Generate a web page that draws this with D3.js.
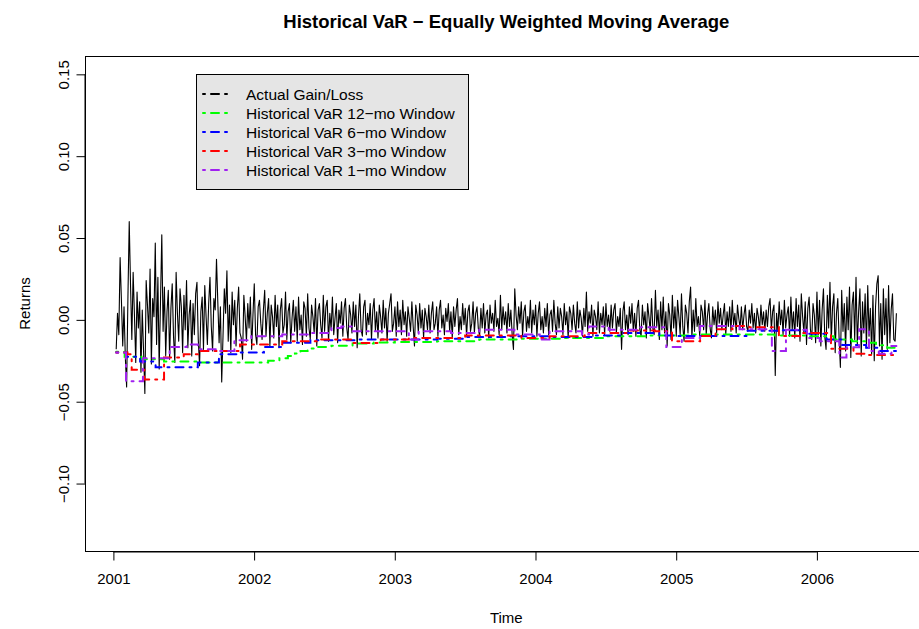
<!DOCTYPE html>
<html>
<head>
<meta charset="utf-8">
<script src="https://cdn.jsdelivr.net/npm/d3@7"></script>
<style>
body { margin: 0; background: #fff; }
svg { display: block; font-family: "Liberation Sans", Arial, sans-serif; }
</style>
</head>
<body>
<svg id="chart" width="919" height="629"></svg>
<script>
// daily gain/loss (in %), first trading day 2001.02 to last 2006.565
var startTime = 2001.02;
var endTime = 2006.565;
var gainLoss = [
  -1.8, 0.4, -0.9, 3.8, 1.2, -1.6, 0.8, -2.3, -4.1, 1.4, 6.0, 2.1, -1.2, 2.9, 0.3, -2.6, 1.7, -0.5, 1.1, -3.2,
  0.6, -1.9, -4.5, 2.4, 0.9, -0.8, 3.1, -2.7, 1.3, 0.2, 4.7, -1.5, 2.6, -3.0, 1.1, 5.2, -0.7, 2.0, -2.2, 0.5,
  1.8, -2.4, 0.7, 2.2, -1.0, -2.6, 2.9, 0.4, -1.3, 1.9, 0.8, -2.0, 1.5, -0.6, 2.4, -1.7, 0.3, 1.2, -2.2, 1.0,
  -0.9, 1.6, 2.3, -1.2, -2.8, 0.5, 1.4, -1.8, 2.1, 0.2, -1.5, 1.0, 2.6, -0.4, -1.9, 1.3, 0.6, 3.7, 1.1, -1.4,
  0.8, -3.8, -1.0, 1.9, 0.4, 3.0, -1.3, 0.9, -2.0, 1.7, -0.3, 1.2, -1.6, 0.7, 2.0, -0.8, -1.1, -2.4, 1.5, 0.2,
  -1.3, 1.0, -0.5, 1.4, -1.8, 0.3, 2.2, -0.9, -1.5, 0.8, 1.2, -0.2, -1.2, 0.6, 1.8, -1.0, 0.4, 1.3, -1.6, 0.9,
  0.2, -1.1, 1.5, -0.4, 0.9, -1.7, 0.6, 1.3, -0.8, -0.3, 1.7, -1.2, 0.5, 1.0, -1.4, 0.1, 1.2, -0.7, 0.8, -1.3,
  1.4, -0.6, 0.3, -1.5, 1.1, 0.7, -1.0, 1.6, -0.5, -1.2, 0.9, 0.2, -0.8, 1.3, -1.6, 0.6, 1.0, -0.3, -1.1, 1.5,
  -0.7, 0.8, 1.2, -1.3, 0.4, -0.6, 1.4, -0.9, 0.1, 1.0, -1.4, 0.6, -0.2, 1.1, -1.0, 0.7, 1.3, -0.5, -1.2, 0.9,
  0.3, -0.8, 1.1, -0.4, 0.9, -1.7, 0.2, 1.6, -0.6, -1.0, 0.8, 1.2, -0.9, 0.4, -0.3, 1.0, -1.2, 0.6, 1.3, -0.7,
  0.5, -1.1, 0.9, 0.2, -0.8, 1.2, -0.5, 0.7, -1.3, 0.4, 1.0, 1.6, -0.7, -0.2, 0.8, -1.0, 1.1, -0.4, 0.6, -0.9,
  1.2, -0.3, 0.5, -1.0, 0.8, 0.1, -0.7, 1.1, -0.4, -1.6, 0.9, 0.3, -0.8, 1.0, -0.5, 0.6, -1.1, 0.7, 0.2, -0.6,
  0.9, -0.8, 0.4, 1.1, -0.6, -0.2, 0.8, -1.0, 0.6, 1.2, -0.5, 0.3, -0.9, 0.7, -0.1, 1.0, -0.7, 0.5, -1.1, 0.8,
  -0.4, 0.6, 1.3, -0.9, 0.2, -0.6, 1.0, -0.3, 0.7, -1.0, 0.5, 0.9, -0.7, -0.2, 1.1, -0.8, 0.4, 0.8, -0.5, -1.0,
  0.7, -0.5, 1.0, -0.8, 0.3, 0.6, -1.1, 0.9, -0.2, 0.4, -0.7, 1.2, -0.4, 0.1, -0.9, 1.5, -0.6, 0.8, -0.3, 0.5,
  -0.8, 1.0, -0.4, 0.6, -0.9, -1.8, 1.9, 0.3, -0.6, 0.8, -0.2, 1.1, -1.0, 0.5, 0.9, -0.7, 0.2, -0.5, 1.2, -0.8,
  0.6, -0.3, 0.9, -1.0, 0.4, 1.1, -0.6, 0.2, -0.8, 0.7, -0.4, 1.0, -0.9, 0.3, 0.6, -0.7, 1.2, -0.2, -0.9, 0.8,
  -0.5, 0.7, 0.2, -0.9, 1.0, -0.3, 0.5, -1.1, 0.8, 0.4, -0.6, 0.9, -0.2, -0.8, 1.1, -0.5, 0.6, 0.1, -1.0, 0.7,
  -0.4, 1.7, -0.7, 0.5, -0.2, 0.9, -1.0, 0.6, 0.2, -0.6, 1.1, -0.8, 0.4, -0.3, 0.8, -0.9, 1.0, -0.4, 0.3, -0.7,
  0.9, -0.5, 0.6, 1.0, -0.8, 0.2, -0.4, 0.7, -1.8, 0.5, 1.1, -0.6, 0.3, -0.9, 0.8, -0.2, 1.0, -0.7, 0.4, -1.0,
  0.7, 1.2, -0.6, -1.0, 0.9, -0.3, 0.5, -1.1, 1.0, 0.2, -0.7, 1.3, -0.5, -0.9, 1.8, -0.4, 0.6, -1.2, 1.1, -0.6,
  1.4, -0.8, 0.5, -1.6, 1.0, 0.3, -1.2, 1.5, -0.5, 0.8, -1.0, 1.2, 0.2, -0.9, 1.6, -0.4, -1.3, 0.9, 0.4, -0.8,
  1.1, 2.0, -1.1, 0.6, -0.7, 1.3, -0.4, 0.2, -1.0, 0.9, 0.5, -0.6, 1.2, -0.9, 0.3, 1.0, -0.5, -1.1, 0.8, -0.3,
  0.6, -0.8, 1.1, -0.2, 0.7, -0.6, 0.3, 1.0, -0.9, 0.5, -0.4, 0.8, -0.7, 1.2, -0.3, 0.4, -0.8, 0.9, 0.1, -0.5,
  0.8, -0.6, 0.3, 0.9, -0.4, -0.7, 0.6, -0.2, 1.0, -0.5, 0.4, -0.8, 0.7, 0.2, -0.6, 0.9, -0.3, 0.5, -0.7, 0.6,
  -0.4, 0.8, 1.3, -0.6, 0.5, 0.9, -3.4, 0.4, -0.7, 1.1, -0.3, 0.6, -0.9, 1.2, -0.5, 0.3, 0.8, -1.0, 1.4, -0.6,
  0.5, -1.1, 1.3, -0.4, 0.9, -1.3, 1.6, 0.2, -0.8, 1.1, -1.5, 0.7, 1.4, -0.6, -1.2, 1.0, 0.3, -1.4, 1.7, -0.9,
  1.2, -1.6, 0.6, 1.9, -1.0, -1.8, 1.5, -0.5, 2.3, -1.3, 0.8, 1.6, -2.0, 0.4, 1.3, -1.1, -2.9, 1.8, -0.7, 1.0,
  -1.9, 1.4, -0.6, 2.0, -2.3, 0.9, 1.7, -1.2, 2.6, -1.5, 0.5, 1.9, -2.2, 1.1, -0.8, 1.6, -1.7, 2.1, -1.0, 0.7,
  -2.1, 1.5, -2.5, 0.8, 2.2, 2.7, -1.6, 1.0, -2.4, 1.9, -0.9, 1.3, -1.8, 2.1, -1.4, 0.6, 1.6, -1.2, -1.3, 0.4
];

// historical VaR (in %), [time, value] where the value changes
var var12 = [
  [2001.02, -1.95], [2001.08, -2.25], [2001.20, -2.4], [2001.36, -2.55], [2001.60, -2.6],
  [2002.10, -2.5], [2002.18, -2.35], [2002.24, -2.2], [2002.29, -2.05], [2002.33, -1.9],
  [2002.38, -1.75], [2002.45, -1.65], [2002.55, -1.58], [2002.70, -1.45], [2002.85, -1.38],
  [2003.00, -1.35], [2003.30, -1.3], [2003.60, -1.2], [2003.90, -1.15], [2004.20, -1.1],
  [2004.50, -1.0], [2004.80, -0.95], [2005.10, -0.9], [2005.70, -0.95], [2005.95, -1.0],
  [2006.12, -1.2], [2006.25, -1.3], [2006.35, -1.4], [2006.42, -1.55], [2006.50, -1.7],
  [2006.565, -1.8]
];
var var6 = [
  [2001.02, -2.0], [2001.09, -2.25], [2001.19, -2.55], [2001.30, -2.9], [2001.60, -2.6],
  [2001.75, -2.1], [2001.90, -2.0], [2002.07, -1.65], [2002.20, -1.4], [2002.40, -1.25],
  [2002.75, -1.2], [2003.30, -1.15], [2003.50, -1.05], [2003.80, -1.0], [2004.10, -1.05],
  [2004.40, -0.95], [2004.60, -0.8], [2004.88, -0.95], [2004.98, -0.98], [2005.50, -0.67],
  [2005.73, -0.63], [2005.92, -0.85], [2006.07, -1.2], [2006.18, -1.54], [2006.35, -1.7],
  [2006.45, -1.9], [2006.565, -1.9]
];
var var3 = [
  [2001.02, -2.0], [2001.10, -2.1], [2001.13, -3.05], [2001.22, -3.65], [2001.36, -2.3],
  [2001.50, -2.1], [2001.60, -1.9], [2001.90, -1.5], [2002.20, -1.3], [2002.45, -1.2],
  [2002.70, -1.42], [2002.90, -1.2], [2003.10, -1.1], [2003.50, -0.95], [2003.90, -1.1],
  [2004.10, -1.0], [2004.35, -0.8], [2004.65, -0.65], [2004.85, -0.7], [2004.97, -1.3],
  [2005.17, -0.98], [2005.28, -0.57], [2005.40, -0.37], [2005.52, -0.45], [2005.73, -0.98],
  [2005.90, -0.8], [2006.10, -1.77], [2006.26, -2.07], [2006.36, -2.15], [2006.565, -2.15]
];
var var1 = [
  [2001.02, -2.0], [2001.09, -3.75], [2001.21, -2.35], [2001.40, -1.65], [2001.52, -1.5],
  [2001.60, -1.8], [2001.74, -1.9], [2001.86, -1.25], [2001.98, -1.0], [2002.20, -0.9],
  [2002.40, -0.8], [2002.55, -0.5], [2002.62, -0.4], [2002.70, -0.7], [2003.10, -1.2],
  [2003.17, -0.7], [2003.40, -0.8], [2003.60, -0.6], [2003.85, -0.9], [2004.03, -1.2],
  [2004.10, -0.7], [2004.33, -0.9], [2004.38, -0.4], [2004.52, -0.6], [2004.73, -0.45],
  [2004.93, -1.65], [2005.04, -1.1], [2005.17, -0.37], [2005.45, -0.57], [2005.68, -1.9],
  [2005.78, -0.6], [2005.93, -1.1], [2006.02, -1.3], [2006.16, -2.3], [2006.21, -1.67],
  [2006.30, -0.57], [2006.37, -1.9], [2006.44, -2.07], [2006.53, -1.6], [2006.565, -1.6]
];

var yearTicks = [2001, 2002, 2003, 2004, 2005, 2006];
var returnTicks = [-0.10, -0.05, 0.00, 0.05, 0.10, 0.15];
var yLimits = [-0.13, 0.15];

var legendLabels = ["Actual Gain/Loss", "Historical VaR 12\u2212mo Window", "Historical VaR 6\u2212mo Window",
  "Historical VaR 3\u2212mo Window", "Historical VaR 1\u2212mo Window"];
var legendColors = ["#000000", "#00ff00", "#0000ff", "#ff0000", "#a020f0"];

var svg = d3.select("#chart");

var plot = { left: 85, right: 927.6, top: 56, bottom: 551 };

// R style 4% extension of the data range
function extend(lo, hi) {
  var d = (hi - lo) * 0.04;
  return [lo - d, hi + d];
}

var x = d3.scaleLinear().domain(extend(startTime, endTime)).range([plot.left, plot.right]);
var y = d3.scaleLinear().domain(extend(yLimits[0], yLimits[1])).range([plot.bottom, plot.top]);

var step = (endTime - startTime) / (gainLoss.length - 1);
var series = gainLoss.map(function(v, i) { return [startTime + i * step, v / 100]; });

svg.append("defs").append("clipPath").attr("id", "clip")
  .append("rect")
  .attr("x", plot.left).attr("y", plot.top)
  .attr("width", plot.right - plot.left).attr("height", plot.bottom - plot.top);

var g = svg.append("g").attr("clip-path", "url(#clip)");

var line = d3.line()
  .x(function(d) { return x(d[0]); })
  .y(function(d) { return y(d[1]); });

g.append("path")
  .datum(series)
  .attr("d", line)
  .attr("fill", "none")
  .attr("stroke", "#000")
  .attr("stroke-width", 1.1)
  .attr("stroke-linejoin", "round");

var stepLine = d3.line()
  .x(function(d) { return x(d[0]); })
  .y(function(d) { return y(d[1] / 100); })
  .curve(d3.curveStepAfter);

var varSeries = [var12, var6, var3, var1];
varSeries.forEach(function(s, i) {
  g.append("path")
    .datum(s)
    .attr("d", stepLine)
    .attr("fill", "none")
    .attr("stroke", legendColors[i + 1])
    .attr("stroke-width", 2)
    .attr("stroke-dasharray", "2,6,8,6")
    .attr("stroke-linecap", "round");
});

// box
svg.append("rect")
  .attr("x", plot.left + 0.5).attr("y", plot.top + 0.5)
  .attr("width", plot.right - plot.left).attr("height", plot.bottom - plot.top)
  .attr("fill", "none").attr("stroke", "#000");

// axes
var xAxis = d3.axisBottom(x).tickValues(yearTicks).tickSize(9).tickPadding(13).tickFormat(d3.format("d"));
var xg = svg.append("g").attr("transform", "translate(0," + (plot.bottom + 0.5) + ")").call(xAxis);
xg.select(".domain").attr("d", "M" + x(yearTicks[0]) + ",0.5H" + x(yearTicks[yearTicks.length - 1]));

var yAxis = d3.axisLeft(y).tickValues(returnTicks).tickSize(9).tickFormat(d3.format(".2f"));
var yg = svg.append("g").attr("transform", "translate(" + (plot.left + 0.5) + ",0)").call(yAxis);
yg.select(".domain").attr("d", "M-0.5," + y(returnTicks[0]) + "V" + y(returnTicks[returnTicks.length - 1]));
yg.selectAll(".tick text")
  .attr("transform", "rotate(-90)")
  .attr("x", 0).attr("y", -17).attr("dy", 0)
  .attr("text-anchor", "middle");

svg.selectAll(".tick text").attr("font-size", 15).attr("font-family", "Liberation Sans, Arial, sans-serif").attr("fill", "#000");
svg.selectAll(".tick line").attr("stroke", "#000");
svg.selectAll(".domain").attr("stroke", "#000");

// titles
svg.append("text")
  .attr("x", (plot.left + plot.right) / 2).attr("y", 28)
  .attr("text-anchor", "middle")
  .attr("font-size", 18.5).attr("font-weight", "bold")
  .text("Historical VaR \u2212 Equally Weighted Moving Average");

svg.append("text")
  .attr("x", (plot.left + plot.right) / 2).attr("y", 623)
  .attr("text-anchor", "middle").attr("font-size", 15)
  .text("Time");

svg.append("text")
  .attr("transform", "translate(30," + (plot.top + plot.bottom) / 2 + ") rotate(-90)")
  .attr("text-anchor", "middle").attr("font-size", 15)
  .text("Returns");

// legend
var legend = svg.append("g");
legend.append("rect")
  .attr("x", 196.5).attr("y", 74.5).attr("width", 272).attr("height", 115)
  .attr("fill", "#e5e5e5").attr("stroke", "#000");

var rows = legend.selectAll(".row").data(legendLabels).enter().append("g")
  .attr("class", "row")
  .attr("transform", function(d, i) { return "translate(0," + (94 + i * 19) + ")"; });

rows.append("line")
  .attr("x1", 203).attr("x2", 229).attr("y1", 0).attr("y2", 0)
  .attr("stroke", function(d, i) { return legendColors[i]; })
  .attr("stroke-width", 2)
  .attr("stroke-dasharray", "2,6,8,6")
  .attr("stroke-linecap", "round");

rows.append("text")
  .attr("x", 246).attr("y", 5.5)
  .attr("font-size", 15.5)
  .text(function(d) { return d; });
</script>
</body>
</html>
